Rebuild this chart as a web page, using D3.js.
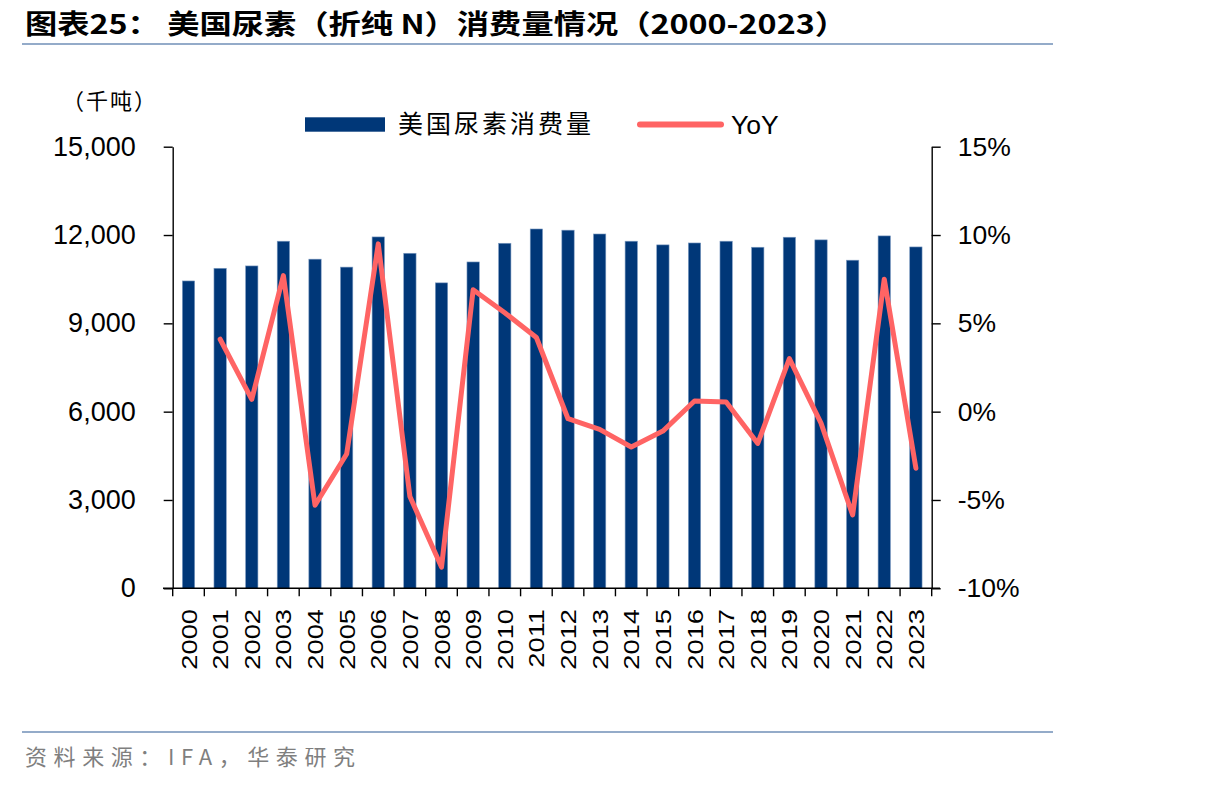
<!DOCTYPE html>
<html><head><meta charset="utf-8">
<script src="https://cdn.jsdelivr.net/npm/d3@7"></script>
<style>
html,body{margin:0;padding:0;background:#fff;}
svg{display:block;}
</style></head>
<body>
<svg id="c" width="1206" height="786"></svg>
<script>
const years = ["2000","2001","2002","2003","2004","2005","2006","2007","2008","2009","2010","2011","2012","2013","2014","2015","2016","2017","2018","2019","2020","2021","2022","2023"];
const consumption = [10440,10870,10950,11790,11180,10910,11935,11380,10375,11085,11720,12205,12165,12035,11790,11665,11730,11790,11585,11925,11835,11145,11970,11595];
const yoy = [null,4.1,0.7,7.7,-5.3,-2.4,9.5,-4.8,-8.8,6.9,5.6,4.2,-0.4,-1.0,-2.0,-1.1,0.6,0.55,-1.8,3.0,-0.65,-5.85,7.5,-3.2];
const leftTicks = [0,3000,6000,9000,12000,15000];
const rightTicks = [-10,-5,0,5,10,15];
const seriesNames = ["美国尿素消费量","YoY"];

const LAT = "'Liberation Sans', Arial, sans-serif";
const CJK = "'Noto Sans CJK SC', sans-serif";
const barColor = "#003778";
const lineColor = "#FF6464";
const ruleColor = "#94abc9";

const svg = d3.select("#c");
const L = 172.7, R = 931.7, T = 146.7, B = 588.3;

const x = d3.scaleBand().domain(years).range([L, R]).paddingInner(0.61).paddingOuter(0.305);
const yL = d3.scaleLinear().domain([0, 15000]).range([B, T]);
const yR = d3.scaleLinear().domain([-10, 15]).range([B, T]);

// Title
svg.append("text").attr("x", 25).attr("y", 34)
  .attr("font-family", CJK).attr("font-weight", "bold").attr("font-size", 27)
  .attr("textLength", 822).attr("lengthAdjust", "spacingAndGlyphs")
  .text("图表25：  美国尿素（折纯 N）消费量情况（2000-2023）");
svg.append("line").attr("x1", 22).attr("x2", 1053).attr("y1", 44).attr("y2", 44)
  .attr("stroke", ruleColor).attr("stroke-width", 2);

// Unit
svg.append("text").attr("x", 62).attr("y", 109)
  .attr("font-family", CJK).attr("font-size", 22).attr("letter-spacing", 2).attr("fill", "#000")
  .text("（千吨）");

// Bars
svg.append("g").selectAll("rect").data(consumption).join("rect")
  .attr("x", (d, i) => x(years[i]))
  .attr("width", x.bandwidth())
  .attr("y", d => yL(d))
  .attr("height", d => B - yL(d))
  .attr("fill", barColor)
  .attr("stroke", "#7e9cc2").attr("stroke-width", 0.6);

// Line
const line = d3.line()
  .defined(d => d != null)
  .x((d, i) => x(years[i]) + x.bandwidth() / 2)
  .y(d => yR(d));
svg.append("path").datum(yoy).attr("d", line)
  .attr("fill", "none").attr("stroke", lineColor).attr("stroke-width", 5)
  .attr("stroke-linejoin", "round").attr("stroke-linecap", "round");

// Left axis
const axL = svg.append("g").attr("transform", `translate(${L},0)`)
  .call(d3.axisLeft(yL).tickValues(leftTicks).tickFormat(d3.format(",")).tickSize(9).tickSizeOuter(0).tickPadding(28));
axL.select(".domain").attr("stroke", "#000").attr("stroke-width", 1.4);
axL.selectAll(".tick line").attr("stroke", "#000").attr("stroke-width", 1.4);
axL.selectAll(".tick text").attr("font-family", LAT).attr("font-size", 27).attr("fill", "#000");

// Right axis
const axR = svg.append("g").attr("transform", `translate(${R},0)`)
  .call(d3.axisRight(yR).tickValues(rightTicks).tickFormat(d => d + "%").tickSize(9).tickSizeOuter(0).tickPadding(17));
axR.select(".domain").attr("stroke", "#000").attr("stroke-width", 1.4);
axR.selectAll(".tick line").attr("stroke", "#000").attr("stroke-width", 1.4);
axR.selectAll(".tick text").attr("font-family", LAT).attr("font-size", 26.5).attr("fill", "#000");

// X axis
const gx = svg.append("g");
gx.append("line").attr("x1", 163).attr("x2", 940).attr("y1", B).attr("y2", B)
  .attr("stroke", "#000").attr("stroke-width", 1.4);
const bounds = d3.range(years.length + 1).map(i => L + i * x.step());
gx.selectAll("line.tk").data(bounds).join("line").attr("class", "tk")
  .attr("x1", d => d).attr("x2", d => d).attr("y1", B).attr("y2", B + 8)
  .attr("stroke", "#000").attr("stroke-width", 1.4);
gx.selectAll("text").data(years).join("text")
  .attr("transform", d => `translate(${x(d) + x.bandwidth() / 2},609) rotate(-90) scale(1,0.82)`)
  .attr("text-anchor", "end").attr("dy", "0.36em")
  .attr("font-family", LAT).attr("font-size", 27.3).attr("fill", "#000")
  .text(d => d);

// Legend
svg.append("rect").attr("x", 305).attr("y", 117.3).attr("width", 80).attr("height", 14.4).attr("fill", barColor);
svg.append("text").attr("x", 398).attr("y", 133)
  .attr("font-family", CJK).attr("font-size", 25).attr("letter-spacing", 3)
  .attr("fill", "#000").text(seriesNames[0]);
svg.append("line").attr("x1", 640).attr("x2", 721).attr("y1", 124.5).attr("y2", 124.5)
  .attr("stroke", lineColor).attr("stroke-width", 6).attr("stroke-linecap", "round");
svg.append("text").attr("x", 731).attr("y", 134)
  .attr("font-family", LAT).attr("font-size", 26.5).attr("fill", "#000").text(seriesNames[1]);

// Source
svg.append("line").attr("x1", 22).attr("x2", 1053).attr("y1", 732).attr("y2", 732)
  .attr("stroke", ruleColor).attr("stroke-width", 2);
svg.append("text").attr("x", 25).attr("y", 765)
  .attr("font-family", CJK).attr("font-size", 22).attr("fill", "#7f7f7f")
  .attr("textLength", 330).attr("lengthAdjust", "spacing")
  .text("资料来源：IFA，华泰研究");
</script>
</body></html>
